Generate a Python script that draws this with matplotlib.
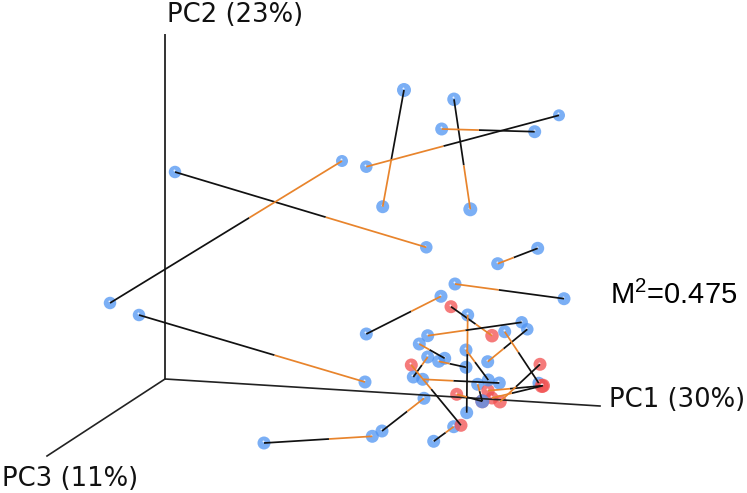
import matplotlib
matplotlib.use("Agg")
import matplotlib.pyplot as plt
from matplotlib.transforms import ScaledTranslation

# Ordination scores (screen-projected PCoA positions)
orange_x = [382.7, 470.3, 441.7, 366.3, 426.3, 342, 497.7, 455, 441, 492, 467.7, 427.7, 487.7, 504.7,
            419.3, 438.7, 427.7, 466, 411.3, 422.7, 477.7, 456.7, 488, 492, 500, 424, 453.7, 372.3, 365]
orange_y = [206.7, 209.3, 129, 166.7, 247.3, 161, 263.7, 284, 296.3, 335.7, 315, 335.7, 361.7, 331.7,
            344, 361.3, 357, 350, 365, 379.3, 384.3, 394.3, 390.7, 398, 401.7, 398.3, 426.7, 436.3, 382]
black_x = [404, 454, 534.7, 559, 175, 110, 537.7, 564, 366.3, 451, 466.7, 521.7, 527.3, 538.7,
           444.7, 466, 413.3, 488.3, 461, 499.3, 482.3, 482.3, 543, 541.7, 540, 382, 433.7, 264, 139]
black_y = [90, 99.3, 131.7, 115.3, 172, 303, 248.3, 298.7, 334, 306.7, 412.7, 322.3, 329.3, 383,
           358.3, 367.3, 377, 380, 425.3, 383, 401.3, 401.3, 385.7, 386, 364.3, 431, 441.3, 443, 315]
# Group of each end: 'b' blue, 'r' red
orange_group = list("bbbbbbbbbrbbbbbbbbrbbrrrrbbbb")
black_group = list("bbbbbbbbbrbbbbbbbbrbrbrrrbbbb")
# Marker diameters in picture pixels
orange_size = [13, 14, 13, 12.5, 12.5, 12, 13, 13, 13, 13.5, 13, 13, 13, 13,
               13, 13, 13, 13, 13, 13, 13, 13, 13.5, 13, 13.5, 13, 13, 13, 13]
black_size = [14, 13.5, 13, 12, 12.5, 12.5, 13, 13, 13, 13, 13, 12.5, 12.5, 12.5,
              13, 13, 13, 13, 13, 13, 14, 14, 14, 14, 13, 13, 13, 13, 12.5]

axis_names = ["PC1 (30%)", "PC2 (23%)", "PC3 (11%)"]
stat_label = r"M$^2$=0.475"

plt.rcParams["mathtext.fontset"] = "custom"
plt.rcParams["mathtext.rm"] = "Liberation Sans"

fig = plt.figure(figsize=(7.47, 4.93), dpi=100)
ax = fig.add_axes([0, 0, 1, 1])
ax.set_xlim(0, 747)
ax.set_ylim(493, 0)
ax.axis("off")

# Axes of the 3D box
ox, oy = 165, 379
ax.plot([ox, 600], [oy, 406], color="#222222", lw=1.2, zorder=3)
ax.plot([ox, ox], [oy, 35], color="#333333", lw=1.4, zorder=1)
ax.plot([ox, 47], [oy, 456], color="#222222", lw=1.2, zorder=1)

colors = {"b": "#4F94F2", "r": "#F24F4F"}
px = fig.dpi_scale_trans
xs = orange_x + black_x
ys = orange_y + black_y
gs = orange_group + black_group
ds = orange_size + black_size
ax.scatter(xs, ys, s=[(d * 0.72) ** 2 for d in ds], c=[colors[g] for g in gs],
           alpha=0.75, linewidths=0, zorder=2)
ax.scatter(xs, ys, s=2.0, c="white", alpha=0.85, linewidths=0, zorder=2.5,
           transform=ax.transData + ScaledTranslation(-0.012, 0.018, px))

orange_share = 0.4
for x0, y0, x1, y1 in zip(orange_x, orange_y, black_x, black_y):
    mx, my = x0 + (x1 - x0) * orange_share, y0 + (y1 - y0) * orange_share
    ax.plot([x1, mx], [y1, my], color="#111111", lw=1.25, zorder=4, solid_capstyle="butt")
    ax.plot([x0, mx], [y0, my], color="#E8842C", lw=1.25, zorder=4, solid_capstyle="butt")

fs = 18.6
ax.text(609, 400, axis_names[0], fontsize=fs, ha="left", va="center", color="#111111")
ax.text(167, 15, axis_names[1], fontsize=fs, ha="left", va="center", color="#111111")
ax.text(2, 479, axis_names[2], fontsize=fs, ha="left", va="center", color="#111111")
ax.text(610, 295, stat_label, fontsize=21, ha="left", va="center", color="black",
        family="Liberation Sans")

fig.savefig("out.png", dpi=100)
